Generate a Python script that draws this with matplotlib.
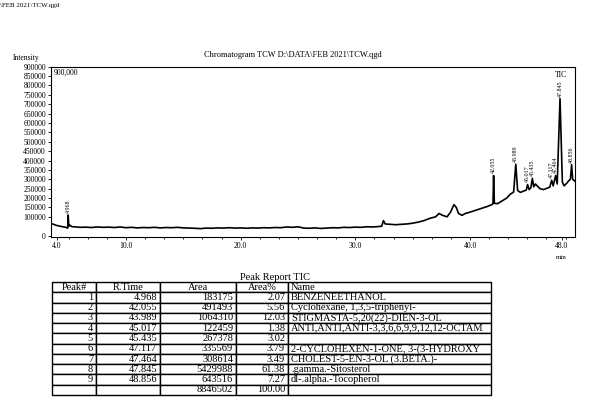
import numpy as np
import matplotlib
matplotlib.use('Agg')
import matplotlib.pyplot as plt
from matplotlib.ticker import MultipleLocator, FixedLocator

plt.rcParams['font.family'] = ['Liberation Serif', 'DejaVu Serif']

# chromatogram trace (retention time in min, intensity)
rt = [3.5, 3.7, 3.9, 4.1, 4.4, 4.7, 4.85, 4.93, 4.968, 5.02, 5.1, 5.3,
      5.5, 6.0, 6.5, 7.0, 7.5, 8.0, 8.5, 9.0, 9.5, 10.0, 10.5, 11.0, 11.5,
      12.0, 12.5, 13.0, 13.5, 14.0, 14.5, 15.0, 15.5, 16.0, 16.5, 17.0, 17.5,
      18.0, 18.5, 19.0, 19.5, 20.0, 20.5, 21.0, 21.5, 22.0, 22.5, 23.0, 23.5,
      24.0, 24.5, 25.0, 25.5, 26.0, 26.5, 27.0, 27.5, 28.0, 28.5, 29.0, 29.5,
      30.0, 30.5, 31.0, 31.5, 32.0, 32.3, 32.45, 32.6, 33.0, 33.5, 34.0, 34.5,
      35.0, 35.5, 36.0, 36.5, 37.0, 37.3, 37.6, 38.0, 38.3, 38.6, 38.8, 39.0,
      39.3, 39.6, 40.0, 40.5, 41.0, 41.5, 41.9, 42.0, 42.055, 42.12, 42.4,
      42.8, 43.2, 43.5, 43.8, 43.989, 44.15, 44.4, 44.7, 44.9, 45.017, 45.15,
      45.3, 45.435, 45.55, 45.7, 45.85, 46.1, 46.4, 46.7, 46.95, 47.117, 47.25,
      47.464, 47.6, 47.845, 48.05, 48.2, 48.45, 48.6, 48.75, 48.856, 48.95, 49.15]
intensity = [64000, 60000, 55000, 52000, 48000, 45000, 42000, 40000, 110000, 50000, 56000, 47000,
             47000, 44000, 45000, 43000, 46000, 44000, 45000, 43000, 46000, 42000, 44000, 41000, 43000,
             42000, 44000, 41000, 43000, 42000, 44000, 41000, 40000, 39000, 37000, 40000, 39000,
             41000, 40000, 42000, 40000, 41000, 39000, 41000, 40000, 42000, 41000, 43000, 42000,
             46000, 44000, 47000, 40000, 39000, 41000, 38000, 40000, 42000, 41000, 44000, 43000,
             45000, 44000, 47000, 46000, 48000, 50000, 80000, 62000, 60000, 58000, 60000, 62000,
             66000, 72000, 80000, 92000, 100000, 118000, 108000, 100000, 125000, 165000, 150000, 118000,
             108000, 118000, 125000, 135000, 145000, 155000, 165000, 170000, 320000, 172000, 170000,
             185000, 200000, 220000, 232000, 380000, 240000, 230000, 238000, 242000, 272000, 245000,
             255000, 305000, 260000, 275000, 265000, 250000, 245000, 252000, 258000, 295000, 265000,
             320000, 275000, 730000, 285000, 265000, 280000, 292000, 300000, 378000, 300000, 290000]

# peak report
peak_no = ['1', '2', '3', '4', '5', '6', '7', '8', '9', '']
peak_rt = [4.968, 42.055, 43.989, 45.017, 45.435, 47.117, 47.464, 47.845, 48.856]
peak_area = ['183175', '491493', '1064310', '122459', '267378', '335569', '308614',
             '5429988', '643516', '8846502']
peak_pct = ['2.07', '5.56', '12.03', '1.38', '3.02', '3.79', '3.49', '61.38', '7.27', '100.00']
peak_name = ['BENZENEETHANOL', 'Cyclohexane, 1,3,5-triphenyl-', 'STIGMASTA-5,20(22)-DIEN-3-OL',
             'ANTI,ANTI,ANTI-3,3,6,6,9,9,12,12-OCTAM', '', '2-CYCLOHEXEN-1-ONE, 3-(3-HYDROXY',
             'CHOLEST-5-EN-3-OL (3.BETA.)-', '.gamma.-Sitosterol', 'dl-.alpha.-Tocopherol', '']

xtick_pos = [4, 10, 20, 30, 40, 48]
xtick_lab = ['4.0', '10.0', '20.0', '30.0', '40.0', '48.0']
ytick_pos = [0] + list(range(100000, 900001, 50000))

fig = plt.figure(figsize=(5.91, 4.20), dpi=100)

fig.text(0.0, 0.988, '\\FEB 2021\\TCW.qgd', fontsize=5, ha='left', va='center')
fig.text(0.495, 0.869, 'Chromatogram TCW D:\\DATA\\FEB 2021\\TCW.qgd', fontsize=6,
         ha='center', va='center')
fig.text(0.045, 0.862, 'Intensity', fontsize=5.5, ha='center', va='center')

ax = fig.add_axes([0.0871, 0.4364, 0.8858, 0.4048])
ax.plot(rt, intensity, color='black', lw=1.2)
for r in peak_rt:
    top = np.interp(r, rt, intensity)
    ax.annotate('%.3f' % r, (r, top), xytext=(0, 1.5), textcoords='offset points',
                rotation=90, fontsize=4.3, ha='center', va='bottom')
ax.set_xlim(3.51, 49.15)
ax.set_ylim(-6000, 900000)
ax.xaxis.set_major_locator(FixedLocator(xtick_pos))
ax.set_xticklabels(xtick_lab)
ax.xaxis.set_minor_locator(MultipleLocator(10 / 6))
ax.set_yticks(ytick_pos)
ax.set_yticklabels([str(v) for v in ytick_pos])
ax.tick_params(axis='both', which='major', labelsize=5.5, length=2.5, width=0.6, pad=1.5)
ax.tick_params(axis='x', which='minor', length=1.5, width=0.6)
ax.tick_params(axis='y', labelsize=5.5)
for s in ax.spines.values():
    s.set_linewidth(0.8)
ax.text(0.004, 0.985, '900,000', transform=ax.transAxes, fontsize=5.5, ha='left', va='top')
ax.text(0.985, 0.975, 'TIC', transform=ax.transAxes, fontsize=5.5, ha='right', va='top')
ax.text(0.985, -0.105, 'min', transform=ax.transAxes, fontsize=5, ha='right', va='top')

# peak report table
fig.text(0.465, 0.340, 'Peak Report TIC', fontsize=7.5, ha='center', va='center')
tax = fig.add_axes([0.088, 0.0595, 0.743, 0.269])
tax.axis('off')
rows = []
for i in range(len(peak_no)):
    t = '%.3f' % peak_rt[i] if i < len(peak_rt) else ''
    rows.append([peak_no[i], t, peak_area[i], peak_pct[i], peak_name[i]])
col_w = [44, 64, 76, 52, 203]
tbl = tax.table(cellText=rows, colLabels=['Peak#', 'R.Time', 'Area', 'Area%', 'Name'],
                colWidths=[w / sum(col_w) for w in col_w], cellLoc='right', bbox=[0, 0, 1, 1])
tbl.auto_set_font_size(False)
for (r, c), cell in tbl.get_celld().items():
    cell.set_linewidth(1.0)
    cell.get_text().set_fontsize(7.5)
    cell.PAD = 3.0 / col_w[c]
    if c == 4:
        cell._loc = 'left'
        cell.get_text().set_ha('left')
    cell.get_text().set_clip_path(cell)

plt.savefig('out.png', dpi=100)
